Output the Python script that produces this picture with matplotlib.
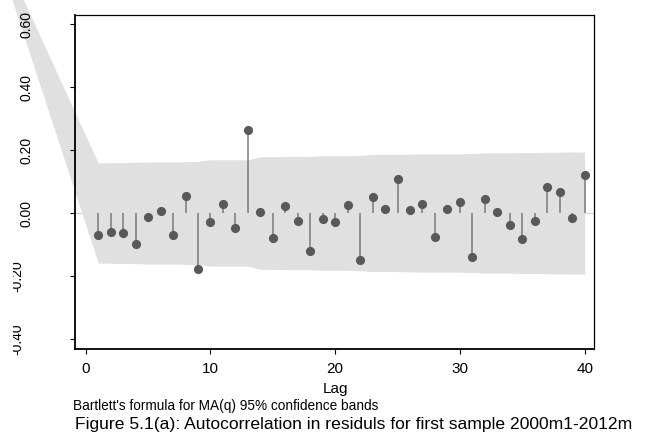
import matplotlib
matplotlib.use('Agg')
import matplotlib.pyplot as plt
from matplotlib.transforms import Bbox

# ---- data ----
lags = list(range(1, 41))
acf = [-0.070, -0.060, -0.065, -0.097, -0.014, 0.007, -0.070, 0.055, -0.178, -0.029,
       0.030, -0.047, 0.263, 0.003, -0.078, 0.023, -0.024, -0.122, -0.020, -0.029,
       0.026, -0.148, 0.051, 0.013, 0.107, 0.010, 0.029, -0.075, 0.012, 0.035,
       -0.141, 0.044, 0.004, -0.037, -0.081, -0.025, 0.083, 0.068, -0.015, 0.120]
band = [0.159, 0.160, 0.160, 0.161, 0.162, 0.162, 0.162, 0.163, 0.164, 0.169,
        0.169, 0.169, 0.169, 0.179, 0.179, 0.180, 0.180, 0.180, 0.182, 0.182,
        0.182, 0.183, 0.186, 0.186, 0.186, 0.187, 0.188, 0.188, 0.188, 0.188,
        0.189, 0.191, 0.191, 0.191, 0.192, 0.192, 0.193, 0.193, 0.194, 0.194]
# band polygon runs off to the upper left, converging here
band_far_lag = -8.2
band_far_val = 0.955

xticks = [0, 10, 20, 30, 40]
yticks = [-0.4, -0.2, 0.0, 0.2, 0.4, 0.6]
ytick_labels = ['-0.40', '-0.20', '0.00', '0.20', '0.40', '0.60']

xlabel = 'Lag'
note = "Bartlett's formula for MA(q) 95% confidence bands"
caption = 'Figure 5.1(a): Autocorrelation in residuls for first sample 2000m1-2012m'

plt.rcParams['font.family'] = ['Liberation Sans', 'DejaVu Sans']

W, H = 648, 441
fig = plt.figure(figsize=(W / 100, H / 100), dpi=100)
fig.patch.set_facecolor('white')
ax = fig.add_axes([75 / W, 1 - 349 / H, (594 - 75) / W, (349 - 15) / H])

ax.axhline(0, color='#d4d4d4', lw=0.8, zorder=0)

bx = [band_far_lag] + lags
bu = [band_far_val] + band
bl = [band_far_val] + [-b for b in band]
ax.fill_between(bx, bl, bu, color='#e0e0e0', lw=0, zorder=1, clip_on=False)

ax.vlines(lags, 0, acf, color='#7a7a7a', lw=1.1, zorder=2)
ax.plot(lags, acf, 'o', color='#595959', ms=6.6, mew=0, zorder=3)

ax.set_xlim(-0.86, 40.75)
ax.set_ylim(-0.432, 0.629)
ax.set_xticks(xticks)
ax.set_xticklabels([str(t) for t in xticks], fontsize=11)
ax.set_yticks(yticks)
# the two negative labels are drawn separately below (they are cut off in the reference)
shown = [lab if v >= 0 else '' for v, lab in zip(yticks, ytick_labels)]
ax.set_yticklabels(shown, fontsize=10, rotation=90, va='center')

ax.tick_params(axis='both', direction='out', length=3.6, width=0.8, color='black')
ax.tick_params(axis='y', pad=26)
ax.tick_params(axis='x', pad=5.5)

for s in ['left', 'bottom']:
    ax.spines[s].set_linewidth(1.3)
for s in ['top', 'right']:
    ax.spines[s].set_linewidth(0.9)

# cut-off negative tick labels
for v, lab in zip(yticks, ytick_labels):
    if v < 0:
        ypix = ax.transData.transform((0, v))[1]
        t = fig.text(17 / W, ypix / H, lab, rotation=90, ha='center', va='center',
                     fontsize=10)
        t.set_clip_box(Bbox.from_extents(12.5, ypix - 30, 21.5, ypix + 30))
        t.set_clip_on(True)

fig.text(335 / W, 1 - 393.5 / H, xlabel, ha='center', va='baseline', fontsize=11)
fig.text(73 / W, 1 - 410.3 / H, note, ha='left', va='baseline', fontsize=9.8)
fig.text(75 / W, 1 - 428.8 / H, caption, ha='left', va='baseline', fontsize=12.6)

fig.savefig('out.png', dpi=100, facecolor='white')
